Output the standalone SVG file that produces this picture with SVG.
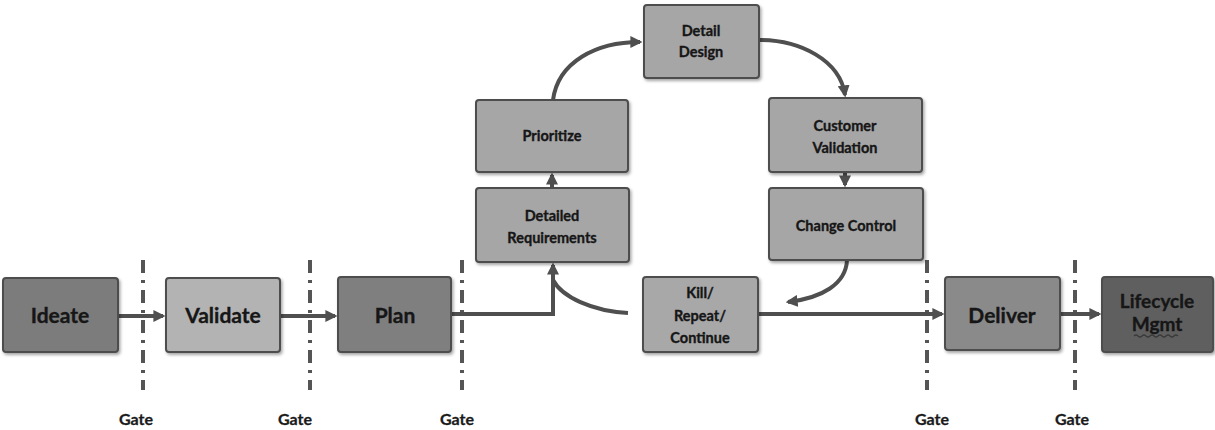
<svg xmlns="http://www.w3.org/2000/svg" width="1215" height="430" viewBox="0 0 1215 430">
<defs>
<style>
.box{stroke:#4d4d4d;stroke-width:2;filter:url(#sh)}
.lbl{font-family:Lato,"Open Sans","Liberation Sans",sans-serif;font-weight:bold;fill:#161616;stroke:#161616;stroke-width:0.35;text-anchor:middle}
.big{font-size:21px}
.mid{font-size:19px}
.sm{font-size:14.5px}
.gate{font-family:Lato,"Liberation Sans",sans-serif;font-weight:bold;font-size:16px;fill:#1a1a1a;stroke:#1a1a1a;stroke-width:0.3;text-anchor:middle}
.con{fill:none;stroke:#4f4f4f;stroke-width:4}
.gl{stroke:#555;stroke-width:4;stroke-dasharray:13 7 3 7}
</style>
<filter id="sh" x="-10%" y="-10%" width="125%" height="130%">
<feDropShadow dx="1.5" dy="2" stdDeviation="1.5" flood-color="#000" flood-opacity="0.35"/>
</filter>
<marker id="ah" viewBox="0 0 10 10" refX="8" refY="5" markerWidth="3" markerHeight="3" orient="auto" markerUnits="strokeWidth">
<path d="M0,0 L10,5 L0,10 z" fill="#4f4f4f"/>
</marker>
</defs>
<rect width="1215" height="430" fill="#fff"/>

<g id="gates">
<line class="gl" x1="143" y1="260" x2="143" y2="390"/>
<line class="gl" x1="310" y1="260" x2="310" y2="390"/>
<line class="gl" x1="462" y1="260" x2="462" y2="390"/>
<line class="gl" x1="927" y1="260" x2="927" y2="390"/>
<line class="gl" x1="1075" y1="260" x2="1075" y2="390"/>
<text class="gate" x="136" y="425">Gate</text>
<text class="gate" x="295" y="425">Gate</text>
<text class="gate" x="457" y="425">Gate</text>
<text class="gate" x="932" y="425">Gate</text>
<text class="gate" x="1072" y="425">Gate</text>
</g>

<g id="connectors">
<path class="con" d="M118,316 H163" marker-end="url(#ah)"/>
<path class="con" d="M280,316 H335" marker-end="url(#ah)"/>
<path class="con" d="M451,314 H553 V265" marker-end="url(#ah)"/>
<path class="con" d="M628,313 C592,311 562,297 553,280"/>
<path class="con" d="M552,188 V175" marker-end="url(#ah)"/>
<path class="con" d="M553,100 C558,62 596,42 640,42" marker-end="url(#ah)"/>
<path class="con" d="M759,40 C800,40 840,60 845,95" marker-end="url(#ah)"/>
<path class="con" d="M845,172 V185" marker-end="url(#ah)"/>
<path class="con" d="M847,260 C846,284 822,298 788,302" marker-end="url(#ah)"/>
<path class="con" d="M758,314 H942" marker-end="url(#ah)"/>
<path class="con" d="M1060,314 H1099" marker-end="url(#ah)"/>
</g>

<g id="ideate"><rect class="box" x="3" y="278" width="115" height="74" rx="3" fill="#7b7b7b"/><text class="lbl big" x="60" y="323">Ideate</text></g>
<g id="validate"><rect class="box" x="166" y="278" width="114" height="74" rx="3" fill="#b3b3b3"/><text class="lbl big" x="223" y="323">Validate</text></g>
<g id="plan"><rect class="box" x="338" y="277" width="113" height="75" rx="3" fill="#7f7f7f"/><text class="lbl big" x="395" y="323">Plan</text></g>

<g id="detail-design"><rect class="box" x="644" y="5" width="115" height="73" rx="3" fill="#a6a6a6"/><text class="lbl sm" x="701" y="36">Detail</text><text class="lbl sm" x="701" y="57">Design</text></g>
<g id="prioritize"><rect class="box" x="476" y="100" width="152" height="72" rx="3" fill="#a6a6a6"/><text class="lbl sm" x="552" y="141">Prioritize</text></g>
<g id="detailed-requirements"><rect class="box" x="476" y="188" width="153" height="74" rx="3" fill="#a6a6a6"/><text class="lbl sm" x="552" y="221">Detailed</text><text class="lbl sm" x="552" y="243">Requirements</text></g>
<g id="customer-validation"><rect class="box" x="769" y="98" width="153" height="74" rx="3" fill="#a6a6a6"/><text class="lbl sm" x="845" y="131">Customer</text><text class="lbl sm" x="845" y="153">Validation</text></g>
<g id="change-control"><rect class="box" x="769" y="188" width="154" height="72" rx="3" fill="#a6a6a6"/><text class="lbl sm" x="846" y="231">Change Control</text></g>
<g id="kill-repeat-continue"><rect class="box" x="643" y="277" width="115" height="75" rx="3" fill="#a8a8a8"/><text class="lbl sm" x="700" y="298">Kill/</text><text class="lbl sm" x="700" y="321">Repeat/</text><text class="lbl sm" x="700" y="343">Continue</text></g>
<g id="deliver"><rect class="box" x="945" y="277" width="115" height="73" rx="3" fill="#8a8a8a"/><text class="lbl big" x="1002" y="323">Deliver</text></g>
<g id="lifecycle-mgmt"><rect class="box" x="1102" y="277" width="111" height="75" rx="3" fill="#5e5e5e"/><text class="lbl mid" x="1157" y="308">Lifecycle</text><text class="lbl mid" x="1157" y="331">Mgmt</text>
<path d="M1134,336 q2,-2 4,0 t4,0 t4,0 t4,0 t4,0 t4,0 t4,0 t4,0 t4,0 t4,0 t4,0" fill="none" stroke="#3a3a3a" stroke-width="1.2"/></g>
</svg>
